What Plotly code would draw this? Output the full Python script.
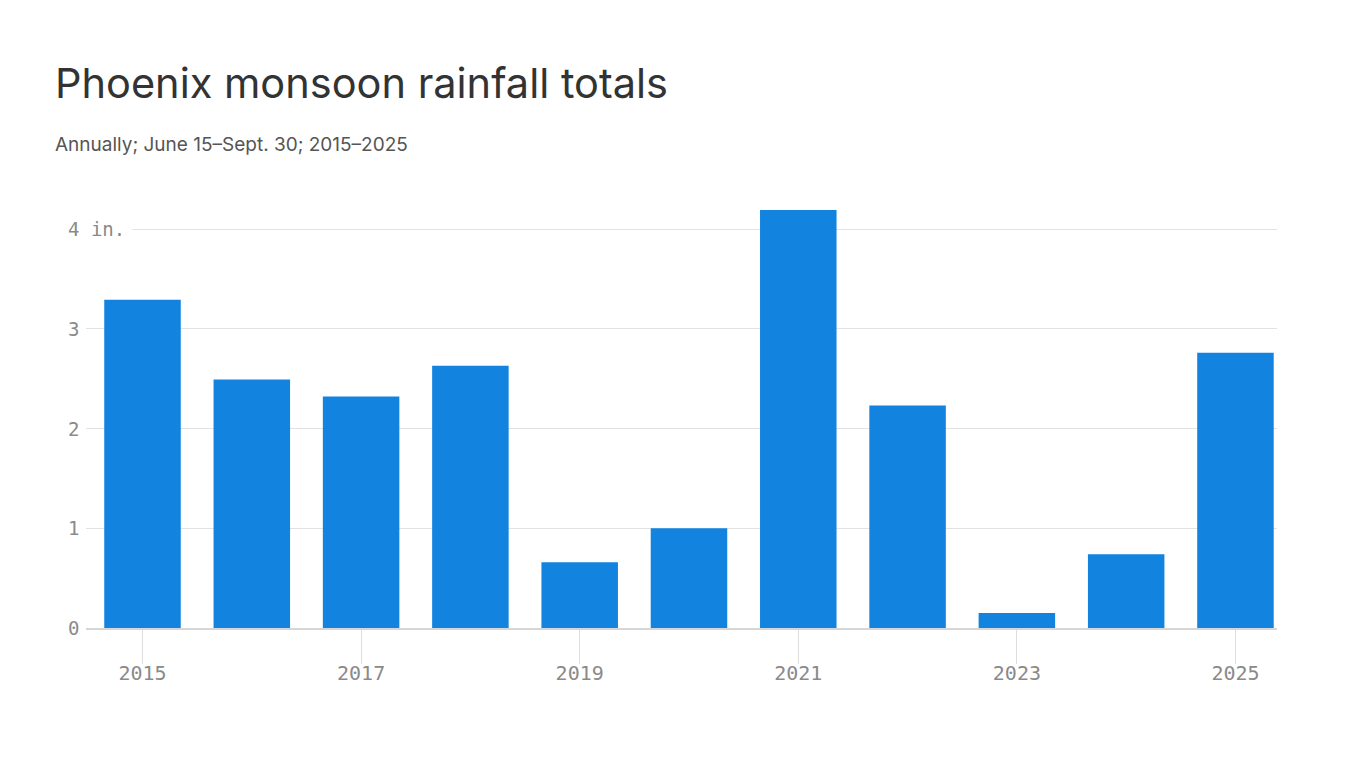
import plotly.graph_objects as go

years = [2015, 2016, 2017, 2018, 2019, 2020, 2021, 2022, 2023, 2024, 2025]
rain_in = [3.29, 2.49, 2.32, 2.63, 0.66, 1.00, 4.19, 2.23, 0.15, 0.74, 2.76]
y_ticks = [0, 1, 2, 3, 4]
y_tick_labels = ["0", "1", "2", "3", "4 in."]
x_ticks = [2015, 2017, 2019, 2021, 2023, 2025]

TITLE = "Phoenix monsoon rainfall totals"
SUBTITLE = "Annually; June 15–Sept. 30; 2015–2025"

W, H = 1366, 768
L, R, T, B = 86, 89, 200, 140
plot_w = W - L - R
plot_h = H - T - B
mono = "DejaVu Sans Mono, Liberation Mono, monospace"
sans = "Inter, Noto Sans, sans-serif"


def px_x(x):
    return (x - L) / plot_w


def px_y(y):
    return (H - B - y) / plot_h


fig = go.Figure()
fig.add_trace(go.Bar(
    x=years, y=rain_in, marker=dict(color="#1283df", line=dict(width=0)),
    width=0.70, hoverinfo="x+y",
))

annotations = []
for v, lab in zip(y_ticks, y_tick_labels):
    annotations.append(dict(
        x=px_x(67), xref="paper", xanchor="left",
        y=v, yref="y", yanchor="middle",
        text=lab, showarrow=False, align="left",
        width=64 if len(lab) > 1 else None,
        bgcolor="white" if len(lab) > 1 else None,
        borderpad=0,
        font=dict(family=mono, size=19, color="#8a8a8a"),
    ))
annotations.append(dict(
    x=px_x(53), xref="paper", xanchor="left", y=px_y(83), yref="paper", yanchor="middle",
    text=TITLE, showarrow=False,
    font=dict(family=sans, size=41.5, color="#333333"),
))
annotations.append(dict(
    x=px_x(53), xref="paper", xanchor="left", y=px_y(144), yref="paper", yanchor="middle",
    text=SUBTITLE, showarrow=False,
    font=dict(family=sans, size=19, color="#555555"),
))

ymax = plot_h / 99.75
fig.update_layout(
    width=W, height=H, autosize=False,
    margin=dict(l=L, r=R, t=T, b=B),
    paper_bgcolor="white", plot_bgcolor="white",
    showlegend=False, bargap=0.3,
    xaxis=dict(
        range=[2015 - 0.517, 2025 + 0.38],
        tickmode="array", tickvals=x_ticks, ticktext=[str(t) for t in x_ticks],
        ticks="outside", ticklen=34, tickwidth=1, tickcolor="#dddddd",
        ticklabelstandoff=-8,
        tickfont=dict(family=mono, size=20, color="#8a8a8a"),
        showline=True, linecolor="#d6d6d6", linewidth=1.5,
        showgrid=False, zeroline=False, fixedrange=True,
    ),
    yaxis=dict(
        range=[0, ymax], tickvals=y_ticks, showticklabels=False,
        showgrid=True, gridcolor="#e2e2e2", gridwidth=1,
        zeroline=False, fixedrange=True,
    ),
    annotations=annotations,
)

fig.write_html("out.html")
